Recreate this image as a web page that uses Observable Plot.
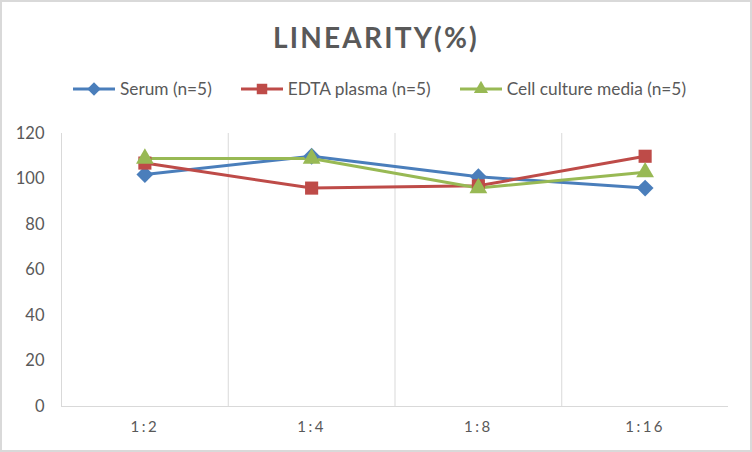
<!DOCTYPE html>
<html>
<head>
<meta charset="utf-8">
<script src="https://cdn.jsdelivr.net/npm/d3@7"></script>
<script src="https://cdn.jsdelivr.net/npm/@observablehq/plot@0.6"></script>
<style>
  html, body { margin: 0; padding: 0; background: #fff; }
  #wrap { position: relative; width: 752px; height: 452px; overflow: hidden; background: #fff; font-family: Lato, "Open Sans", sans-serif; color: #595959; }
  #border { position: absolute; left: 0; top: 0; width: 752px; height: 452px; box-sizing: border-box; border: 2px solid #d9d9d9; pointer-events: none; z-index: 5; }
  #title { position: absolute; left: 0; top: 21px; width: 752px; text-align: center; font-size: 28px; font-weight: 700; letter-spacing: 2.2px; line-height: 1.2; white-space: nowrap; }
  #legend { position: absolute; left: 3px; top: 79px; width: 752px; display: flex; justify-content: center; align-items: center; font-size: 17.3px; line-height: 1.2; white-space: nowrap; }
  .item { display: flex; align-items: center; margin: 0 14px; }
  .item svg { display: block; margin-right: 4px; }
  #plot { position: absolute; left: 0; top: 110px; }
  #plot g[aria-label*="x-axis"] text { letter-spacing: 2.5px; }
</style>
</head>
<body>
<div id="wrap">
  <div id="title"></div>
  <div id="legend"></div>
  <div id="plot"></div>
  <div id="border"></div>
</div>
<script>
const title = "LINEARITY(%)";
const categories = ["1:2", "1:4", "1:8", "1:16"];
const seriesNames = ["Serum (n=5)", "EDTA plasma (n=5)", "Cell culture media (n=5)"];
const serum = [102, 110, 101, 96];
const edta = [107, 96, 97, 110];
const cell = [109, 109, 96, 103];
const seriesColors = ["#4a7ebb", "#be4b48", "#98b954"];
const seriesSymbols = ["diamond2", "square", "triangle"];
const markerRadius = [7.6, 7.4, 6.6];
const yTicks = [0, 20, 40, 60, 80, 100, 120];

const values = [serum, edta, cell];
const data = [];
values.forEach((vals, s) => vals.forEach((v, i) => data.push({series: seriesNames[s], idx: i, value: v, r: markerRadius[s]})));

document.getElementById("title").textContent = title;

// legend
const legend = document.getElementById("legend");
const symbolMap = {diamond2: d3.symbolDiamond2, square: d3.symbolSquare, triangle: d3.symbolTriangle};
seriesNames.forEach((name, s) => {
  const item = document.createElement("div");
  item.className = "item";
  const sv = d3.create("svg").attr("width", 44).attr("height", 16);
  sv.append("line").attr("x1", 1).attr("x2", 43).attr("y1", 8).attr("y2", 8)
    .attr("stroke", seriesColors[s]).attr("stroke-width", 3);
  const rr = markerRadius[s] * 0.8;
  sv.append("path").attr("transform", "translate(22,8)")
    .attr("d", d3.symbol(symbolMap[seriesSymbols[s]], Math.PI * rr * rr)())
    .attr("fill", seriesColors[s]);
  item.appendChild(sv.node());
  const span = document.createElement("span");
  span.textContent = name;
  item.appendChild(span);
  legend.appendChild(item);
});

const chart = Plot.plot({
  width: 752,
  height: 342,
  marginTop: 23,
  marginBottom: 46,
  marginLeft: 61,
  marginRight: 24,
  style: {fontFamily: "Lato, 'Open Sans', sans-serif", fontSize: "16px", color: "#595959", background: "transparent"},
  x: {domain: [-0.5, categories.length - 0.5]},
  y: {domain: [0, 120]},
  r: {type: "identity"},
  color: {domain: seriesNames, range: seriesColors},
  symbol: {domain: seriesNames, range: seriesSymbols},
  marks: [
    Plot.ruleX(categories.map((c, i) => i - 0.5), {stroke: "#d9d9d9", strokeWidth: 1}),
    Plot.ruleY([0], {stroke: "#d9d9d9", strokeWidth: 1}),
    Plot.axisY({ticks: yTicks, tickSize: 0, tickPadding: 17, label: null, fontSize: 16.5}),
    Plot.axisX({ticks: categories.map((c, i) => i), tickFormat: i => categories[i], tickSize: 0, tickPadding: 15, label: null, fontSize: 15}),
    Plot.line(data, {x: "idx", y: "value", z: "series", stroke: "series", strokeWidth: 3, curve: "linear"}),
    Plot.dot(data, {x: "idx", y: "value", fill: "series", symbol: "series", r: "r", stroke: "none"})
  ]
});
document.getElementById("plot").appendChild(chart);
</script>
</body>
</html>
